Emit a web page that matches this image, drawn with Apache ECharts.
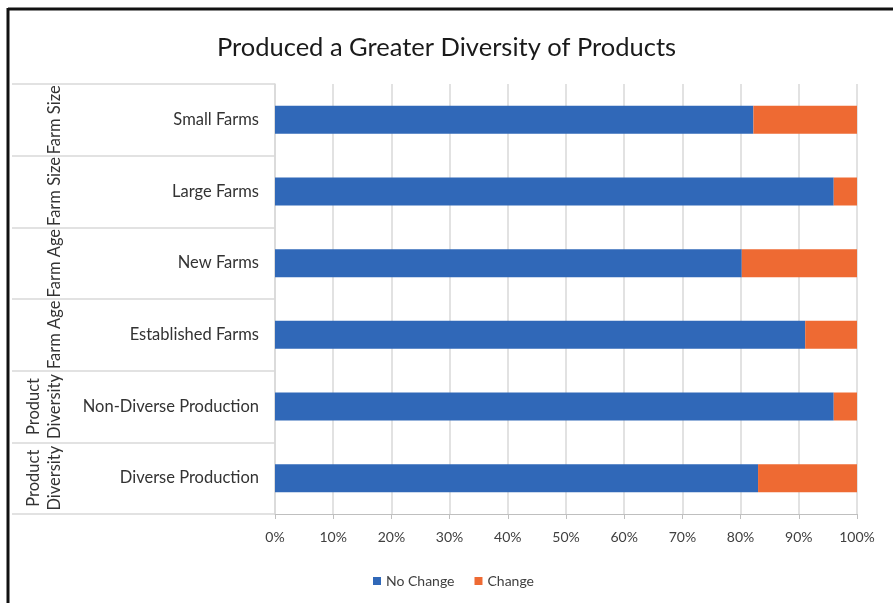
<!DOCTYPE html>
<html>
<head>
<meta charset="utf-8">
<title>Produced a Greater Diversity of Products</title>
<script src="https://cdn.jsdelivr.net/npm/echarts@6/dist/echarts.min.js"></script>
<style>
  html, body { margin: 0; padding: 0; background: #ffffff; }
  #chart { width: 893px; height: 603px; }
</style>
</head>
<body>
<div id="chart"></div>
<script>
// Survey rows, top to bottom
const categories = ['Small Farms', 'Large Farms', 'New Farms', 'Established Farms', 'Non-Diverse Production', 'Diverse Production'];
// Grouping label shown beside each row
const groupLabels = ['Farm Size', 'Farm Size', 'Farm Age', 'Farm Age', 'Product\nDiversity', 'Product\nDiversity'];
// Share of farms (%)
const noChange = [82.2, 96.0, 80.2, 91.1, 96.0, 83.0];
const change = [17.8, 4.0, 19.8, 8.9, 4.0, 17.0];
// Percent axis ticks
const tickValues = [0, 10, 20, 30, 40, 50, 60, 70, 80, 90, 100];

const FONT = 'Lato, "Noto Sans", sans-serif';
const chart = echarts.init(document.getElementById('chart'), null, { renderer: 'canvas' });

chart.setOption({
  backgroundColor: '#ffffff',
  animation: false,
  textStyle: { fontFamily: FONT },
  title: {
    text: 'Produced a Greater Diversity of Products',
    left: 'center',
    top: 30,
    textStyle: { fontFamily: FONT, fontSize: 25.5, fontWeight: 'normal', color: '#1a1a1a' }
  },
  legend: {
    data: ['No Change', 'Change'],
    left: 368,
    top: 569,
    icon: 'rect',
    itemWidth: 8,
    itemHeight: 8,
    itemGap: 20,
    textStyle: { fontFamily: FONT, fontSize: 14, color: '#404040' }
  },
  grid: { left: 275, right: 36, top: 84, bottom: 89, containLabel: false },
  xAxis: {
    type: 'value',
    min: tickValues[0],
    max: tickValues[tickValues.length - 1],
    interval: 10,
    axisLine: { show: true, lineStyle: { color: '#bfbfbf', width: 1 } },
    axisTick: { show: true, length: 5, lineStyle: { color: '#bfbfbf' } },
    axisLabel: { margin: 16, fontSize: 14, color: '#404040', fontFamily: FONT, formatter: v => v + '%' },
    splitLine: { show: true, lineStyle: { color: '#d9d9d9', width: 1.5 } }
  },
  yAxis: [
    {
      type: 'category',
      data: categories,
      inverse: true,
      axisLine: { show: true, lineStyle: { color: '#d9d9d9', width: 1.5 } },
      axisTick: { show: true, length: 263, lineStyle: { color: '#d9d9d9', width: 1.5 } },
      axisLabel: { margin: 16, fontSize: 16.5, color: '#333333', fontFamily: FONT }
    },
    {
      type: 'category',
      data: groupLabels,
      inverse: true,
      position: 'left',
      offset: 210,
      axisLine: { show: false },
      axisTick: { show: false },
      axisLabel: { interval: 0, margin: 0, rotate: 90, fontSize: 16.5, lineHeight: 21, color: '#333333', fontFamily: FONT }
    }
  ],
  series: [
    {
      name: 'No Change',
      type: 'bar',
      stack: 'share',
      yAxisIndex: 0,
      barWidth: 28,
      itemStyle: { color: '#3068b8' },
      data: noChange
    },
    {
      name: 'Change',
      type: 'bar',
      stack: 'share',
      yAxisIndex: 0,
      barWidth: 28,
      itemStyle: { color: '#ee6a33' },
      data: change
    }
  ],
  graphic: [
    // frame edges along the top and left
    { type: 'line', shape: { x1: 8, y1: 9, x2: 893, y2: 9 }, style: { stroke: '#111111', lineWidth: 3 } },
    { type: 'line', shape: { x1: 8, y1: 8, x2: 8, y2: 603 }, style: { stroke: '#111111', lineWidth: 3 } }
  ]
});
</script>
</body>
</html>
